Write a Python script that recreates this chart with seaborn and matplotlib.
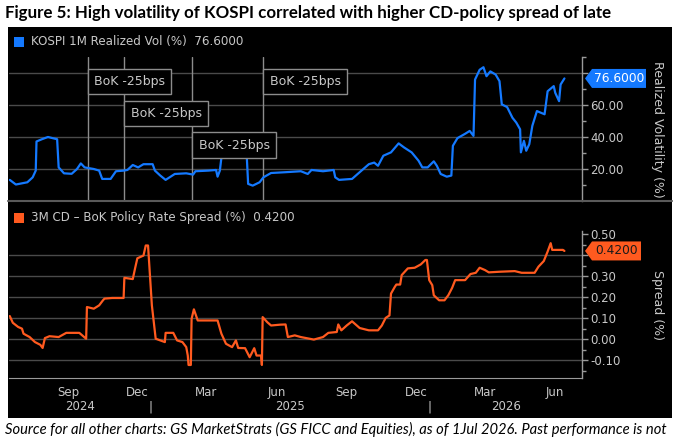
import matplotlib
matplotlib.use("Agg")
import pandas as pd
import matplotlib.pyplot as plt
import matplotlib.dates as mdates
from matplotlib.patches import Rectangle, Polygon
from matplotlib.lines import Line2D
import matplotlib.ticker as mticker
import seaborn as sns

# KOSPI 1M realized vol (%)
vol_dates = [
    "2024-07-01", "2024-07-09", "2024-07-24", "2024-07-31", "2024-08-04", "2024-08-05",
    "2024-08-12", "2024-08-20", "2024-09-01", "2024-09-03", "2024-09-10", "2024-09-20",
    "2024-09-27", "2024-10-02", "2024-10-07", "2024-10-19", "2024-10-26", "2024-10-30",
    "2024-11-10", "2024-11-17", "2024-11-27", "2024-12-02", "2024-12-09", "2024-12-16",
    "2024-12-23", "2025-01-04", "2025-01-07", "2025-01-14", "2025-01-21", "2025-02-02",
    "2025-02-17", "2025-02-26", "2025-03-01", "2025-03-18", "2025-03-28", "2025-03-30",
    "2025-04-02", "2025-04-04", "2025-04-07", "2025-05-07", "2025-05-09", "2025-05-15",
    "2025-05-24", "2025-05-29", "2025-06-08", "2025-06-27", "2025-07-17", "2025-07-26",
    "2025-07-31", "2025-08-15", "2025-08-29", "2025-08-31", "2025-09-05", "2025-09-22",
    "2025-10-02", "2025-10-14", "2025-10-21", "2025-10-26", "2025-11-02", "2025-11-12",
    "2025-11-22", "2025-11-29", "2025-12-09", "2025-12-18", "2025-12-23", "2025-12-30",
    "2026-01-07", "2026-01-11", "2026-01-16", "2026-01-24", "2026-01-30", "2026-02-01",
    "2026-02-07", "2026-02-17", "2026-02-23", "2026-02-28", "2026-03-02", "2026-03-08",
    "2026-03-13", "2026-03-17", "2026-03-22", "2026-03-29", "2026-04-03", "2026-04-06",
    "2026-04-13", "2026-04-20", "2026-04-25", "2026-04-30", "2026-05-01", "2026-05-05",
    "2026-05-08", "2026-05-12", "2026-05-16", "2026-05-22", "2026-05-27", "2026-06-01",
    "2026-06-05", "2026-06-13", "2026-06-15", "2026-06-20", "2026-06-22", "2026-06-27",
]
vol_values = [
    13.2, 10.3, 11.7, 14.8, 19.0, 37.2,
    38.6, 40.0, 38.6, 21.0, 17.3, 17.0,
    20.0, 23.5, 21.0, 20.0, 19.0, 13.8,
    13.8, 18.6, 19.0, 19.4, 22.5, 21.0,
    23.0, 23.0, 19.0, 15.9, 13.2, 16.9,
    17.3, 16.5, 18.6, 19.0, 19.4, 15.2,
    19.0, 27.0, 32.0, 30.0, 10.7, 9.6,
    11.7, 14.8, 17.5, 18.0, 18.6, 16.9,
    19.4, 18.6, 19.4, 14.8, 13.2, 13.8,
    18.0, 23.0, 24.0, 22.0, 28.3, 30.4,
    36.0, 33.5, 30.4, 25.2, 21.0, 21.0,
    24.8, 22.0, 16.9, 15.2, 15.9, 34.5,
    39.3, 42.0, 43.8, 40.7, 75.9, 82.0,
    83.6, 78.0, 81.0, 79.0, 74.9, 60.4,
    58.7, 52.0, 49.0, 44.8, 30.4, 37.6,
    31.4, 35.5, 47.0, 56.2, 55.2, 54.2,
    68.6, 71.8, 67.6, 62.4, 72.8, 76.6,
]

# 3M CD - BoK policy rate spread (%)
spread_dates = [
    "2024-07-01", "2024-07-05", "2024-07-12", "2024-07-17", "2024-07-19", "2024-07-27",
    "2024-08-03", "2024-08-10", "2024-08-13", "2024-08-16", "2024-08-22", "2024-09-03",
    "2024-09-13", "2024-09-30", "2024-10-09", "2024-10-10", "2024-10-19", "2024-10-26",
    "2024-10-31", "2024-11-02", "2024-11-12", "2024-11-27", "2024-11-28", "2024-12-09",
    "2024-12-12", "2024-12-15", "2024-12-23", "2024-12-26", "2024-12-29", "2025-01-03",
    "2025-01-08", "2025-01-14", "2025-01-20", "2025-01-21", "2025-01-31", "2025-02-05",
    "2025-02-12", "2025-02-17", "2025-02-19", "2025-02-20", "2025-02-23", "2025-02-24",
    "2025-02-27", "2025-03-04", "2025-03-30", "2025-04-04", "2025-04-10", "2025-04-18",
    "2025-04-23", "2025-04-26", "2025-05-05", "2025-05-11", "2025-05-17", "2025-05-20",
    "2025-05-26", "2025-05-27", "2025-05-28", "2025-06-03", "2025-06-08", "2025-06-20",
    "2025-06-27", "2025-06-30", "2025-07-09", "2025-07-17", "2025-08-03", "2025-08-15",
    "2025-08-22", "2025-09-02", "2025-09-04", "2025-09-08", "2025-09-15", "2025-09-22",
    "2025-10-02", "2025-10-14", "2025-10-26", "2025-10-31", "2025-11-05", "2025-11-10",
    "2025-11-12", "2025-11-17", "2025-11-19", "2025-11-24", "2025-11-26", "2025-12-04",
    "2025-12-13", "2025-12-21", "2025-12-27", "2025-12-29", "2026-01-01", "2026-01-05",
    "2026-01-07", "2026-01-14", "2026-01-21", "2026-01-26", "2026-01-31", "2026-02-04",
    "2026-02-17", "2026-02-24", "2026-03-03", "2026-03-08", "2026-03-15", "2026-03-20",
    "2026-04-03", "2026-04-23", "2026-05-02", "2026-05-19", "2026-05-24", "2026-05-31",
    "2026-06-05", "2026-06-09", "2026-06-11", "2026-06-25", "2026-06-27",
]
spread_values = [
    0.110, 0.078, 0.058, 0.050, 0.026, 0.010,
    -0.014, -0.027, -0.042, 0.005, 0.014, 0.010,
    0.030, 0.030, 0.002, 0.153, 0.145, 0.161,
    0.185, 0.193, 0.196, 0.196, 0.292, 0.286,
    0.337, 0.385, 0.398, 0.446, 0.446, 0.161,
    0.002, -0.006, -0.014, 0.030, 0.030, -0.006,
    -0.014, -0.038, -0.078, -0.123, -0.123, 0.097,
    0.142, 0.089, 0.089, 0.026, -0.022, -0.038,
    -0.006, -0.042, -0.043, -0.086, -0.043, -0.078,
    -0.078, -0.123, 0.105, 0.081, 0.065, 0.069,
    0.070, 0.010, 0.018, 0.010, -0.002, 0.010,
    0.030, 0.034, 0.070, 0.042, 0.065, 0.085,
    0.053, 0.042, 0.042, 0.065, 0.101, 0.113,
    0.217, 0.249, 0.260, 0.260, 0.305, 0.337,
    0.340, 0.356, 0.377, 0.377, 0.281, 0.257,
    0.209, 0.185, 0.185, 0.209, 0.244, 0.281,
    0.281, 0.310, 0.316, 0.340, 0.329, 0.318,
    0.321, 0.324, 0.316, 0.316, 0.345, 0.372,
    0.417, 0.457, 0.425, 0.425, 0.420,
]

bok_cut_dates = ["2024-10-11", "2024-11-28", "2025-02-25", "2025-05-29"]
bok_label_levels = [74.7, 54.7, 35.0, 74.7]
vol_last = "76.6000"
spread_last = "0.4200"
vol_grid = [20, 40, 60, 80]
spread_grid = [-0.1, 0.0, 0.1, 0.2, 0.3, 0.4]

title = "Figure 5: High volatility of KOSPI correlated with higher CD-policy spread of late"
footer = ("Source for all other charts: GS MarketStrats (GS FICC and Equities), "
          "as of 1Jul 2026. Past performance is not")

BLUE = "#1479ff"
ORANGE = "#ff5a1f"
GRID = "#4a4a4a"
TXT = "#c8c8c8"
SPINE = "#9a9a9a"

vol_df = pd.DataFrame({"date": pd.to_datetime(vol_dates), "value": vol_values})
spread_df = pd.DataFrame({"date": pd.to_datetime(spread_dates), "value": spread_values})

sns.set_style("dark")
plt.rcParams["font.family"] = ["DejaVu Sans"]

W, H = 680, 448
fig = plt.figure(figsize=(W / 100, H / 100), dpi=100)
fig.patch.set_facecolor("white")


def px(x0, y0, x1, y1):
    # pixel box with top-left origin -> figure fraction rect
    return [x0 / W, 1 - y1 / H, (x1 - x0) / W, (y1 - y0) / H]


fig.add_artist(Rectangle((8 / W, 1 - 418 / H), 664 / W, 391 / H,
                         transform=fig.transFigure, fc="black", ec="none", zorder=-1))

ax1 = fig.add_axes(px(9, 57, 582, 201))
ax2 = fig.add_axes(px(9, 231, 582, 378))

sns.lineplot(data=vol_df, x="date", y="value", ax=ax1, color=BLUE, lw=1.6, zorder=3)
sns.lineplot(data=spread_df, x="date", y="value", ax=ax2, color=ORANGE, lw=1.6, zorder=3)

xlim = (pd.Timestamp("2024-06-30"), pd.Timestamp("2026-07-20"))
for ax in (ax1, ax2):
    ax.set_facecolor("black")
    ax.set_xlim(xlim)
    ax.set_xlabel("")
    ax.set_ylabel("")
    ax.grid(False)
    for s in ("top", "left", "bottom"):
        ax.spines[s].set_visible(False)
    ax.spines["right"].set_visible(True)
    ax.spines["right"].set_color(SPINE)
    ax.spines["right"].set_linewidth(1)
    ax.yaxis.tick_right()
    ax.tick_params(axis="y", which="major", direction="out", length=4, width=1,
                   color=SPINE, labelcolor=TXT, labelsize=8.5, pad=2, right=True, left=False)
    ax.tick_params(axis="y", which="minor", direction="out", length=3, width=1,
                   color=SPINE, right=True, left=False)


def tick_fmt(hidden):
    # the last-value tag sits on top of one tick label, so leave that one blank
    return mticker.FuncFormatter(lambda v, p: "" if abs(v - hidden) < 1e-9 else f"{v:.2f}")


# top panel
ax1.set_ylim(0, 90)
ax1.yaxis.set_major_locator(mticker.FixedLocator([20, 40, 60, 80]))
ax1.yaxis.set_minor_locator(mticker.FixedLocator([10, 30, 50, 70, 90]))
ax1.yaxis.set_major_formatter(tick_fmt(80))
ax1.tick_params(axis="x", which="both", bottom=False, labelbottom=False)
for g in vol_grid:
    ax1.axhline(g, color=GRID, lw=1, zorder=1)

for d, lvl in zip(bok_cut_dates, bok_label_levels):
    d = pd.Timestamp(d)
    ax1.axvline(d, color="#8c8c8c", lw=1, zorder=2)
    ax1.annotate("BoK -25bps", xy=(d, lvl), xytext=(4.5, 0), textcoords="offset points",
                 ha="left", va="center", fontsize=9, color=TXT, zorder=5,
                 bbox=dict(boxstyle="square,pad=0.5", fc="black", ec="#8c8c8c", lw=1))

# bottom panel
ax2.set_ylim(-0.185, 0.515)
ax2.yaxis.set_major_locator(mticker.MultipleLocator(0.1))
ax2.yaxis.set_minor_locator(mticker.MultipleLocator(0.05))
ax2.yaxis.set_major_formatter(tick_fmt(0.4))
for g in spread_grid:
    ax2.axhline(g, color=GRID, lw=1, zorder=1)

ax2.spines["bottom"].set_visible(True)
ax2.spines["bottom"].set_color(SPINE)
ax2.xaxis.set_major_locator(mdates.MonthLocator())
ax2.xaxis.set_major_formatter(mticker.NullFormatter())
ax2.xaxis.set_minor_locator(mdates.MonthLocator(bymonth=[3, 6, 9, 12], bymonthday=15))
ax2.xaxis.set_minor_formatter(mdates.DateFormatter("%b"))
ax2.tick_params(axis="x", which="major", direction="out", length=4, width=1, color=SPINE)
ax2.tick_params(axis="x", which="minor", length=0, labelsize=8.5, labelcolor=TXT, pad=6)

years = [("2024", "2024-07-01", "2025-01-01"), ("2025", "2025-01-01", "2026-01-01"),
         ("2026", "2026-01-01", "2026-07-20")]
for label, a, b in years:
    a, b = pd.Timestamp(a), pd.Timestamp(b)
    mid = a + (b - a) / 2
    ax2.text(mid, -0.197, label, transform=ax2.get_xaxis_transform(), ha="center",
             va="center", fontsize=8.5, color=TXT, clip_on=False)
for sep in ["2025-01-01", "2026-01-01"]:
    ax2.text(pd.Timestamp(sep), -0.197, "|", transform=ax2.get_xaxis_transform(),
             ha="center", va="center", fontsize=8.5, color=TXT, clip_on=False)

# axis titles on the right
ax1.text(1.131, 0.5, "Realized Volatility (%)", transform=ax1.transAxes, rotation=270,
         ha="center", va="center", fontsize=9, color=TXT)
ax2.text(1.131, 0.5, "Spread (%)", transform=ax2.transAxes, rotation=270,
         ha="center", va="center", fontsize=9, color=TXT)

# separator between panels
fig.add_artist(Line2D([8 / W, 672 / W], [1 - 201.5 / H] * 2, transform=fig.transFigure,
                      color="#5a5a5a", lw=1.5))

# legends
for top, color, text in [(37, BLUE, "KOSPI 1M Realized Vol (%)  " + vol_last),
                         (213, ORANGE, "3M CD \u2013 BoK Policy Rate Spread (%)  " + spread_last)]:
    fig.add_artist(Rectangle((14 / W, 1 - (top + 10) / H), 10 / W, 10 / H,
                             transform=fig.transFigure, fc=color, ec="none"))
    fig.text(31 / W, 1 - (top + 5) / H, text, ha="left", va="center", fontsize=8.6, color=TXT)


def value_tag(ax, y, text, fc, tc, width):
    yd = ax.transData.transform((0, y))[1]
    x0 = ax.transAxes.transform((1, 0))[0] + 3
    h = 9.5
    pts = [(x0, yd), (x0 + 7, yd + h), (x0 + width, yd + h), (x0 + width, yd - h), (x0 + 7, yd - h)]
    pts = [(a / W, b / H) for a, b in pts]
    fig.add_artist(Polygon(pts, closed=True, transform=fig.transFigure, fc=fc, ec="none", zorder=5))
    fig.text((x0 + 7 + (width - 7) / 2) / W, yd / H, text, ha="center", va="center",
             fontsize=8.8, color=tc, zorder=6)


value_tag(ax1, float(vol_last), vol_last, BLUE, "white", 61)
value_tag(ax2, float(spread_last), spread_last, ORANGE, "#1a1a1a", 56)

fig.text(5 / W, 1 - 13 / H, title, ha="left", va="center", fontsize=12.2,
         fontweight="bold", family=["Lato", "DejaVu Sans"], color="black")
fig.text(5 / W, 1 - 429 / H, footer, ha="left", va="center", fontsize=10.6,
         style="italic", family=["Lato", "DejaVu Sans"], color="black")

fig.savefig("out.png", dpi=100)
